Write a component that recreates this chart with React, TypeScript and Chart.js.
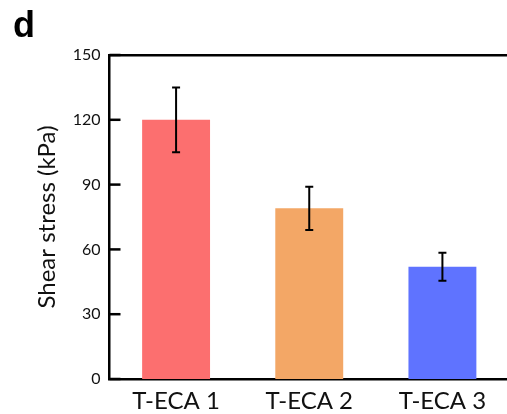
import React, { useEffect, useRef } from "react";
import { Chart, registerables } from "chart.js";

Chart.register(...registerables);

// Shear stress per sample (kPa) with standard deviations
const categories = ["T-ECA 1", "T-ECA 2", "T-ECA 3"];
const shearStress = [120, 79, 52];
const shearError = [15, 10, 6.5];
const barColors = ["#FC6F6F", "#F3A766", "#5F73FF"];
const yTickValues = [0, 30, 60, 90, 120, 150];

const FONT = "Lato, 'Open Sans', sans-serif";

// Draws error bars and inward-pointing y tick marks
const decorations = {
  id: "decorations",
  afterDatasetsDraw(chart: any) {
    const { ctx, chartArea } = chart;
    const yScale = chart.scales.y;
    const meta = chart.getDatasetMeta(0);
    ctx.save();
    ctx.strokeStyle = "#000";
    ctx.lineWidth = 2;
    meta.data.forEach((bar: any, i: number) => {
      const v = shearStress[i];
      const e = shearError[i];
      const yTop = yScale.getPixelForValue(v + e);
      const yBot = yScale.getPixelForValue(v - e);
      const cap = 4;
      ctx.beginPath();
      ctx.moveTo(bar.x, yTop);
      ctx.lineTo(bar.x, yBot);
      ctx.moveTo(bar.x - cap, yTop);
      ctx.lineTo(bar.x + cap, yTop);
      ctx.moveTo(bar.x - cap, yBot);
      ctx.lineTo(bar.x + cap, yBot);
      ctx.stroke();
    });
    ctx.lineWidth = 2.5;
    yTickValues.forEach((t) => {
      const y = yScale.getPixelForValue(t);
      ctx.beginPath();
      ctx.moveTo(chartArea.left, y);
      ctx.lineTo(chartArea.left + 11, y);
      ctx.stroke();
    });
    ctx.restore();
  },
};

export default function App() {
  const canvasRef = useRef<HTMLCanvasElement | null>(null);

  useEffect(() => {
    if (!canvasRef.current) return;
    const chart = new Chart(canvasRef.current, {
      type: "bar",
      data: {
        labels: categories,
        datasets: [
          {
            data: shearStress,
            backgroundColor: barColors,
            borderWidth: 0,
            barPercentage: 0.51,
            categoryPercentage: 1,
          },
        ],
      },
      options: {
        animation: false,
        responsive: false,
        maintainAspectRatio: false,
        layout: { padding: { top: 55, left: 0, right: 0, bottom: 0 } },
        plugins: {
          legend: { display: false },
          tooltip: { enabled: false },
        },
        scales: {
          x: {
            type: "category",
            position: "bottom",
            grid: { display: false, drawTicks: false },
            border: { display: true, color: "#000", width: 2.5 },
            ticks: {
              color: "#111",
              padding: 8,
              font: { family: FONT, size: 24 },
              maxRotation: 0,
            },
            afterFit: (s: any) => {
              s.height = 35;
            },
          },
          x2: {
            type: "category",
            position: "top",
            grid: { display: false, drawTicks: false },
            border: { display: true, color: "#000", width: 2.5 },
            ticks: { display: false },
            afterFit: (s: any) => {
              s.height = 0;
            },
          },
          y: {
            min: 0,
            max: 150,
            afterBuildTicks: (s: any) => {
              s.ticks = yTickValues.map((v) => ({ value: v }));
            },
            grid: { display: false, drawTicks: false },
            border: { display: true, color: "#000", width: 2.5 },
            ticks: {
              color: "#111",
              padding: 9,
              font: { family: FONT, size: 16 },
            },
            title: {
              display: true,
              text: "Shear stress (kPa)",
              color: "#111",
              font: { family: FONT, size: 24, lineHeight: 1.2 },
              padding: { top: 33, bottom: 0 },
            },
            afterFit: (s: any) => {
              s.width = 109.5;
            },
          },
        },
      },
      plugins: [decorations],
    });
    return () => chart.destroy();
  }, []);

  return (
    <div
      style={{
        position: "absolute",
        left: 0,
        top: 0,
        width: 507,
        height: 414,
        overflow: "hidden",
        background: "#fff",
      }}
    >
      <div
        style={{
          position: "absolute",
          left: 13,
          top: 5,
          fontFamily: "'Liberation Sans', Arial, sans-serif",
          fontWeight: "bold",
          fontSize: 36,
          lineHeight: "40px",
          color: "#000",
        }}
      >
        d
      </div>
      <canvas ref={canvasRef} width={509} height={414} style={{ display: "block" }} />
    </div>
  );
}
